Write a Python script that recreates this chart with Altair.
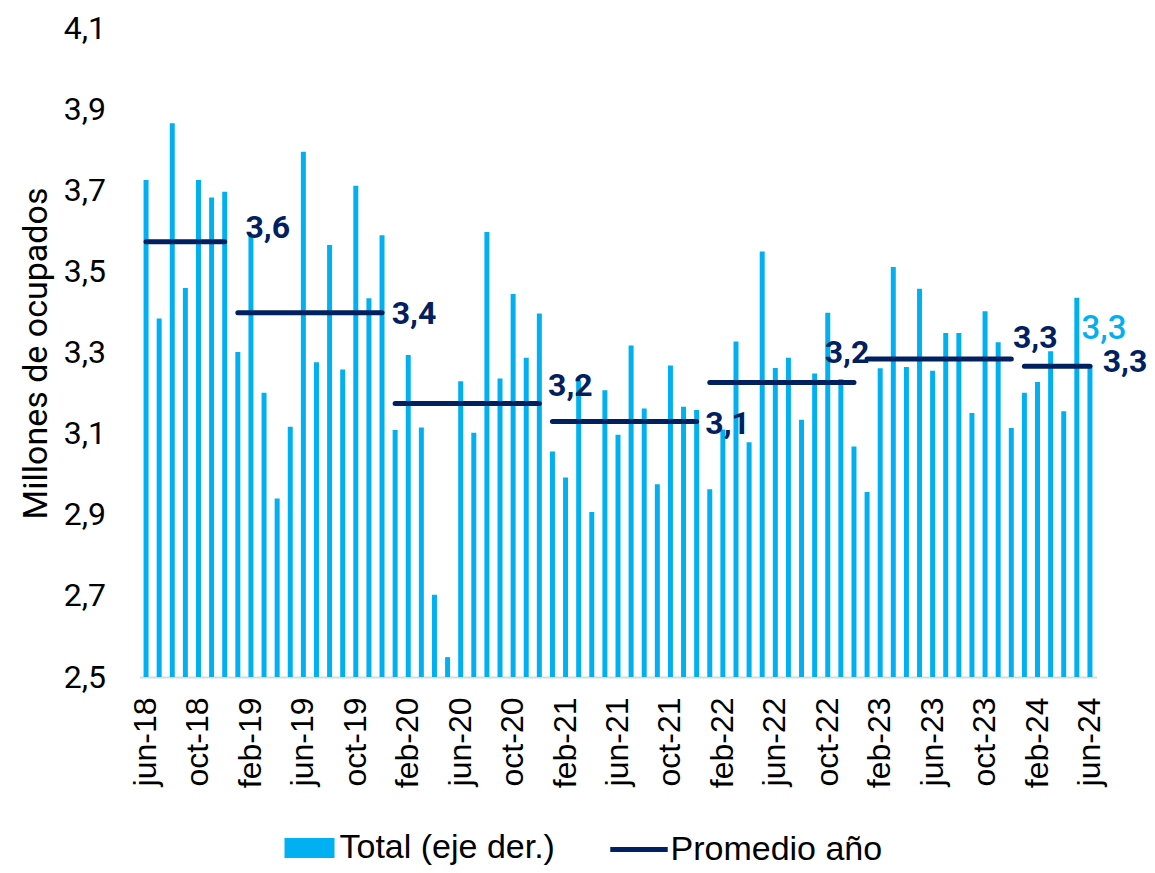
import altair as alt
import pandas as pd

# ---- categories ----
abbr = ["ene", "feb", "mar", "abr", "may", "jun", "jul", "ago", "sep", "oct", "nov", "dic"]
meses = []
for y in range(2018, 2025):
    for m in range(12):
        if (y == 2018 and m < 5) or (y == 2024 and m > 5):
            continue
        meses.append(f"{abbr[m]}-{y % 100:02d}")

# ---- series values (millones de ocupados), jun-18 .. jun-24 ----
total = [
    3.725, 3.384, 3.865, 3.459, 3.725, 3.682, 3.696,
    3.301, 3.588, 3.201, 2.940, 3.117, 3.795, 3.276, 3.565, 3.258, 3.711, 3.434, 3.589,
    3.109, 3.294, 3.115, 2.703, 2.549, 3.229, 3.102, 3.597, 3.236, 3.444, 3.287, 3.396,
    3.056, 2.992, 3.231, 2.907, 3.207, 3.097, 3.317, 3.162, 2.975, 3.268, 3.166, 3.158,
    2.963, 3.110, 3.327, 3.079, 3.549, 3.262, 3.287, 3.134, 3.248, 3.398, 3.234, 3.068,
    2.956, 3.261, 3.511, 3.264, 3.457, 3.255, 3.348, 3.348, 3.151, 3.402, 3.325, 3.114,
    3.201, 3.227, 3.303, 3.155, 3.435, 3.270,
]

anios = ["2018", "2019", "2020", "2021", "2022", "2023", "2024"]
inicio = ["jun-18", "ene-19", "ene-20", "ene-21", "ene-22", "ene-23", "ene-24"]
fin = ["dic-18", "dic-19", "dic-20", "dic-21", "dic-22", "dic-23", "jun-24"]
promedio = [3.573, 3.398, 3.174, 3.130, 3.226, 3.284, 3.266]

yticks = [2.5, 2.7, 2.9, 3.1, 3.3, 3.5, 3.7, 3.9, 4.1]
xticks = meses[::4]

def coma(v):
    return f"{v:.1f}".replace(".", ",")

# label offsets (layout only)
offsets = {
    "2018": (43, -14), "2019": (32, 1), "2020": (31, -18), "2021": (31, 3),
    "2022": (-7, -30), "2023": (24, -21), "2024": (35, -4),
}

df_bars = pd.DataFrame({"mes": meses, "valor": total, "serie": "Total (eje der.)"})
df_bars["label"] = [coma(v) for v in total]
df_avg = pd.DataFrame({"anio": anios, "inicio": inicio, "fin": fin,
                       "promedio": promedio, "serie": "Promedio año"})
df_avg["label"] = [coma(v) for v in promedio]

BLUE = "#00B0F0"
NAVY = "#002060"

xscale = alt.Scale(domain=meses, paddingInner=0.62, paddingOuter=0.31)
yscale = alt.Scale(domain=[2.5, 4.1], zero=False, nice=False)

xaxis = alt.Axis(values=xticks, labelAngle=-90, labelFont="Arial", labelFontSize=32,
                 labelColor="#000000", labelPadding=20, ticks=False, domainColor="#D9D9D9",
                 domainWidth=2, grid=False, title=None, labelOverlap=False)
yaxis = alt.Axis(values=yticks, labelExpr="replace(format(datum.value, '.1f'), '.', ',')",
                 labelFont="Roboto", labelFontSize=32, labelColor="#000000", labelPadding=34,
                 ticks=False, domain=False, grid=False, title="Millones de ocupados",
                 titleFont="Roboto", titleFontSize=34, titleFontWeight="normal",
                 titleColor="#000000", titleX=-93, titleY=325, titleBaseline="alphabetic",
                 titleAngle=-90, titleAlign="center")

bars = alt.Chart(df_bars).mark_bar(clip=True).encode(
    x=alt.X("mes:N", scale=xscale, axis=xaxis, sort=meses),
    y=alt.Y("valor:Q", scale=yscale, axis=yaxis),
    y2=alt.datum(2.5),
    color=alt.Color("serie:N", scale=alt.Scale(range=[BLUE]),
                    legend=alt.Legend(title=None, orient="none", legendX=150, legendY=800,
                                      symbolType="M-1.25,-0.5H1.25V0.5H-1.25Z",
                                      symbolSize=1600, symbolStrokeWidth=0,
                                      labelFont="Arial", labelFontSize=34, labelColor="#000000",
                                      labelOffset=10, padding=0, labelLimit=400)),
)

rules = alt.Chart(df_avg).mark_rule(strokeWidth=5, strokeCap="round").encode(
    x=alt.X("inicio:N", scale=xscale, sort=meses),
    x2="fin:N",
    y=alt.Y("promedio:Q", scale=yscale),
    stroke=alt.Stroke("serie:N", scale=alt.Scale(range=[NAVY]),
                      legend=alt.Legend(title=None, orient="none", legendX=468, legendY=790,
                                        symbolType="stroke", symbolSize=3300,
                                        symbolStrokeWidth=5,
                                        labelFont="Arial", labelFontSize=34,
                                        labelColor="#000000", labelOffset=0, padding=0,
                                        labelLimit=400)),
)

layers = [bars, rules]
for a in anios:
    dx, dy = offsets[a]
    layers.append(
        alt.Chart(df_avg).transform_filter(alt.datum.anio == a).mark_text(
            font="Roboto", fontSize=32, fontWeight="bold", color=NAVY,
            align="center", baseline="middle", dx=dx, dy=dy,
        ).encode(x=alt.X("fin:N", scale=xscale, sort=meses),
                 y=alt.Y("promedio:Q", scale=yscale), text="label:N")
    )

last = alt.Chart(df_bars).transform_filter(alt.datum.mes == meses[-1]).mark_text(
    font="Roboto", fontSize=33, fontWeight=500, color=BLUE, align="center", baseline="middle",
    dx=14, dy=-36,
).encode(x=alt.X("mes:N", scale=xscale, sort=meses),
         y=alt.Y("valor:Q", scale=yscale), text="label:N")
layers.append(last)

chart = alt.layer(*layers).properties(
    width=957, height=649,
    autosize=alt.AutoSizeParams(type="none"),
    padding={"left": 131.5, "top": 20, "right": 50.5, "bottom": 188},
).configure(background="white").configure_view(stroke=None, strokeWidth=0)

chart.save("out.html", embed_options={"renderer": "svg", "actions": False})
